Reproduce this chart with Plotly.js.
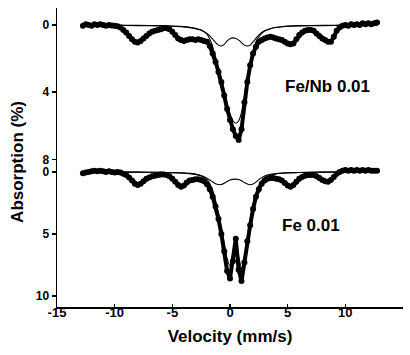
<!DOCTYPE html>
<html>
<head>
<meta charset="utf-8">
<script src="https://cdn.plot.ly/plotly-3.0.1.min.js"></script>
<style>html,body{margin:0;padding:0;background:#fff;}#chart{width:410px;height:355px;}</style>
</head>
<body>
<div id="chart"></div>
<script>
// Velocity channels (mm/s)
const velocity = [-12.75,-12.5,-12.25,-12,-11.75,-11.5,-11.25,-11,-10.75,-10.5,-10.25,-10,-9.75,-9.5,-9.25,-9,-8.75,-8.5,-8.25,-8,-7.75,-7.5,-7.25,-7,-6.75,-6.5,-6.25,-6,-5.75,-5.5,-5.25,-5,-4.75,-4.5,-4.25,-4,-3.75,-3.5,-3.25,-3,-2.75,-2.5,-2.25,-2,-1.75,-1.5,-1.25,-1,-0.75,-0.5,-0.25,0,0.25,0.5,0.75,1,1.25,1.5,1.75,2,2.25,2.5,2.75,3,3.25,3.5,3.75,4,4.25,4.5,4.75,5,5.25,5.5,5.75,6,6.25,6.5,6.75,7,7.25,7.5,7.75,8,8.25,8.5,8.75,9,9.25,9.5,9.75,10,10.25,10.5,10.75,11,11.25,11.5,11.75,12,12.25,12.5,12.75];

// Fe/Nb 0.01 measured absorption (%)
const feNbData = [0.05,-0.05,0,0.05,-0.05,0,-0.05,0,0.05,0,0.03,0.05,0.08,0.15,0.3,0.45,0.65,0.85,1.0,1.05,0.95,0.8,0.65,0.5,0.4,0.35,0.3,0.25,0.2,0.2,0.25,0.4,0.6,0.8,0.9,0.95,0.9,0.85,0.85,0.9,0.85,0.9,0.95,1.0,1.25,1.7,2.2,2.8,3.4,4.2,5.0,5.65,6.2,6.6,6.85,6.2,4.6,3.4,2.4,1.7,1.3,1.0,0.9,0.8,0.75,0.7,0.75,0.8,0.85,0.9,1.0,1.1,1.15,1.1,0.85,0.6,0.45,0.35,0.3,0.3,0.35,0.5,0.65,0.8,0.9,1.0,1.0,0.7,0.35,0.15,0.05,0,0.05,-0.05,0,-0.05,0,-0.1,-0.05,-0.1,-0.05,-0.1,-0.15];

// Fe 0.01 measured absorption (%)
const feData = [0.1,0.05,0,-0.05,-0.1,-0.05,-0.1,-0.05,0,-0.05,0,0.05,0,0.05,0.15,0.25,0.45,0.7,0.95,1.05,0.95,0.75,0.55,0.45,0.35,0.3,0.25,0.2,0.2,0.25,0.35,0.55,0.8,1.05,1.2,1.1,0.85,0.7,0.65,0.6,0.6,0.65,0.75,1.0,1.4,2.0,2.8,3.8,5.0,6.4,8.0,8.6,7.2,5.4,7.9,8.8,7.3,5.6,4.3,3.0,2.0,1.4,0.95,0.7,0.55,0.5,0.5,0.55,0.6,0.7,0.9,1.1,1.2,1.05,0.8,0.55,0.4,0.3,0.25,0.25,0.25,0.35,0.5,0.65,0.75,0.8,0.65,0.4,0.15,0,-0.1,-0.15,-0.1,-0.15,-0.1,-0.15,-0.1,-0.15,-0.1,-0.15,-0.1,-0.1,-0.1];

// Fitted component curves
const fitVelocity = [-12.8,-10,-8,-6,-5,-4,-3.5,-3,-2.5,-2,-1.75,-1.5,-1.25,-1,-0.75,-0.5,-0.25,0,0.25,0.5,0.75,1,1.25,1.5,1.75,2,2.25,2.5,2.75,3,3.5,4,4.5,5,6,8,10,12.8];
const feNbSmall = [0,0.02,0.04,0.06,0.08,0.12,0.16,0.22,0.32,0.5,0.65,0.85,1.05,1.2,1.25,1.15,0.95,0.82,0.77,0.8,0.9,1.05,1.2,1.25,1.2,1.0,0.8,0.6,0.45,0.35,0.22,0.15,0.11,0.08,0.06,0.04,0.02,0];
const feNbMain = [0,0.01,0.02,0.04,0.06,0.1,0.14,0.2,0.3,0.55,0.85,1.3,1.9,2.55,3.2,3.95,4.7,5.3,5.7,5.85,5.7,5.2,4.2,3.1,2.2,1.5,1.0,0.7,0.5,0.36,0.22,0.14,0.1,0.07,0.04,0.02,0.01,0];
const feSmall = [0,0.01,0.02,0.04,0.06,0.09,0.12,0.18,0.3,0.5,0.65,0.82,0.95,1.02,1.02,0.92,0.78,0.66,0.6,0.58,0.62,0.72,0.86,0.98,1.03,0.98,0.82,0.62,0.46,0.34,0.2,0.13,0.09,0.07,0.05,0.02,0.01,0];
const feMain = [0,0.01,0.02,0.04,0.06,0.1,0.14,0.2,0.32,0.6,0.95,1.5,2.3,3.3,4.5,5.8,7.0,7.6,6.6,5.6,6.8,7.8,6.9,5.2,3.8,2.6,1.7,1.1,0.7,0.48,0.27,0.16,0.11,0.08,0.05,0.02,0.01,0];

// Axis ticks
const xTickVals = [-15,-10,-5,0,5,10,15];
const xTickText = ['-15','-10','-5','0','5','10','15'];
const upperTickVals = [0,4,8];
const lowerTickVals = [0,5,10];
const upperLabel = 'Fe/Nb 0.01';
const lowerLabel = 'Fe 0.01';

const dataStyle = {mode:'lines+markers', line:{color:'black', width:4}, marker:{color:'black', size:6}, hoverinfo:'skip'};
const fitStyle = {mode:'lines', line:{color:'black', width:1.1, shape:'spline', smoothing:0.6}, hoverinfo:'skip'};

const traces = [
  Object.assign({x:velocity, y:feNbData, xaxis:'x', yaxis:'y2'}, dataStyle),
  Object.assign({x:fitVelocity, y:feNbSmall, xaxis:'x', yaxis:'y2'}, fitStyle),
  Object.assign({x:fitVelocity, y:feNbMain, xaxis:'x', yaxis:'y2'}, fitStyle),
  Object.assign({x:velocity, y:feData, xaxis:'x', yaxis:'y'}, dataStyle),
  Object.assign({x:fitVelocity, y:feSmall, xaxis:'x', yaxis:'y'}, fitStyle),
  Object.assign({x:fitVelocity, y:feMain, xaxis:'x', yaxis:'y'}, fitStyle)
];

const yCommon = {showline:true, linecolor:'black', linewidth:1.5, ticks:'outside', ticklen:4, tickwidth:1.5, tickcolor:'black', showgrid:false, zeroline:false, anchor:'x', tickfont:{size:12, weight:'bold'}};

const layout = {
  width:410, height:355,
  margin:{l:57, r:7, t:8, b:48},
  paper_bgcolor:'white', plot_bgcolor:'white', showlegend:false,
  font:{family:'Liberation Sans, Arial, sans-serif', color:'black', size:12, weight:'bold'},
  xaxis:{range:[-15,15], tickvals:xTickVals, ticktext:xTickText, ticks:'inside', ticklen:3, tickwidth:1.5, tickcolor:'black',
         ticklabelstandoff:-7,
         showline:true, linewidth:1.5, linecolor:'black', showgrid:false, zeroline:false, anchor:'y',
         tickfont:{size:13, weight:'bold'}, title:{text:'Velocity (mm/s)', font:{size:17, weight:'bold'}, standoff:11}},
  yaxis:Object.assign({domain:[0,0.475], range:[10.9,-0.56], tickvals:lowerTickVals}, yCommon),
  yaxis2:Object.assign({domain:[0.475,1], range:[8.33,-1.01], tickvals:upperTickVals}, yCommon),
  annotations:[
    {text:'Absorption (%)', xref:'paper', yref:'paper', x:-0.113, y:0.485, xanchor:'center', yanchor:'middle', textangle:-90, showarrow:false, font:{size:17, weight:'bold'}},
    {text:upperLabel, xref:'paper', yref:'paper', x:0.783, y:0.736, xanchor:'center', yanchor:'middle', showarrow:false, font:{size:17, weight:'bold'}},
    {text:lowerLabel, xref:'paper', yref:'paper', x:0.733, y:0.274, xanchor:'center', yanchor:'middle', showarrow:false, font:{size:17, weight:'bold'}}
  ]
};

Plotly.newPlot('chart', traces, layout, {staticPlot:true, displayModeBar:false});
</script>
</body>
</html>
